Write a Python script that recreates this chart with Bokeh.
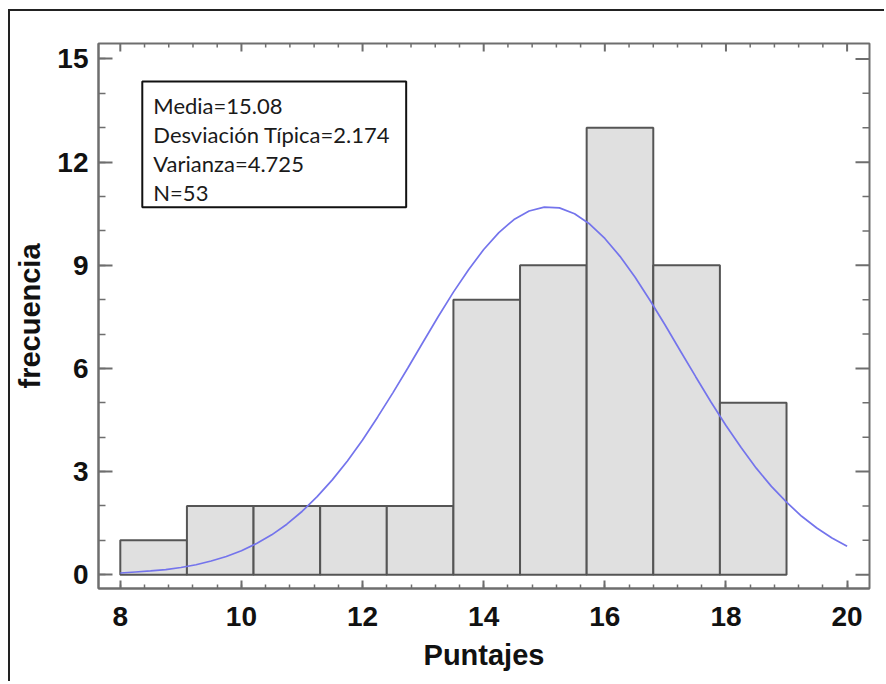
import numpy as np
from bokeh.plotting import figure
from bokeh.models import Range1d, SingleIntervalTicker, Label, BoxAnnotation, ColumnDataSource
from bokeh.embed import file_html
from bokeh.resources import INLINE

# ---- data ----
bin_left = [8.0, 9.1, 10.2, 11.3, 12.4, 13.5, 14.6, 15.7, 16.8, 17.9]
bin_right = [9.1, 10.2, 11.3, 12.4, 13.5, 14.6, 15.7, 16.8, 17.9, 19.0]
counts = [1, 2, 2, 2, 2, 8, 9, 13, 9, 5]

curve_x = [8.0, 8.25, 8.5, 8.75, 9.0, 9.25, 9.5, 9.75, 10.0, 10.25, 10.5, 10.75,
           11.0, 11.25, 11.5, 11.75, 12.0, 12.25, 12.5, 12.75, 13.0, 13.25, 13.5, 13.75,
           14.0, 14.25, 14.5, 14.75, 15.0, 15.25, 15.5, 15.75, 16.0, 16.25, 16.5, 16.75,
           17.0, 17.25, 17.5, 17.75, 18.0, 18.25, 18.5, 18.75, 19.0, 19.25, 19.5, 19.75, 20.0]
curve_y = [0.05, 0.08, 0.11, 0.15, 0.21, 0.29, 0.40, 0.53, 0.70, 0.91, 1.16, 1.47,
           1.84, 2.27, 2.76, 3.31, 3.92, 4.59, 5.29, 6.02, 6.77, 7.51, 8.22, 8.87,
           9.46, 9.95, 10.33, 10.58, 10.69, 10.67, 10.50, 10.20, 9.78, 9.26, 8.65, 7.97,
           7.25, 6.50, 5.76, 5.03, 4.34, 3.70, 3.10, 2.57, 2.11, 1.70, 1.36, 1.07, 0.83]

stats_lines = ["Media=15.08", "Desviación Típica=2.174", "Varianza=4.725", "N=53"]
x_label = "Puntajes"
y_label = "frecuencia"

AX = "#6e6e6e"
FONT = "Liberation Sans"
X0, X1 = 7.64, 20.37
Y0, Y1 = -0.40, 15.45
FW, FH = 771, 545

p = figure(width=874, height=670, output_backend="svg", toolbar_location=None,
           x_range=Range1d(X0, X1), y_range=Range1d(Y0, Y1),
           frame_width=FW, frame_height=FH,
           min_border_left=88, min_border_top=32, min_border_right=15, min_border_bottom=93)
p.styles = {"border-top": "2px solid #222222", "border-left": "2px solid #222222",
            "margin-left": "8px", "margin-top": "9px"}
p.xgrid.visible = False
p.ygrid.visible = False
p.outline_line_color = AX
p.outline_line_width = 2
p.background_fill_color = "white"
p.border_fill_color = "white"

src = ColumnDataSource(dict(left=bin_left, right=bin_right, top=counts, bottom=[0] * len(counts)))
p.quad(left="left", right="right", top="top", bottom="bottom", source=src,
       fill_color="#e0e0e0", line_color="#555555", line_width=2)
p.line(curve_x, curve_y, line_color="#7474ec", line_width=1.7)

p.xaxis.ticker = SingleIntervalTicker(interval=2, num_minor_ticks=5)
p.yaxis.ticker = SingleIntervalTicker(interval=3, num_minor_ticks=3)
for ax, maj, mnr in ((p.xaxis[0], 8, 4), (p.yaxis[0], 14, 7)):
    ax.axis_line_color = AX
    ax.axis_line_width = 2
    ax.major_tick_line_color = AX
    ax.minor_tick_line_color = AX
    ax.major_tick_line_width = 2
    ax.minor_tick_line_width = 1.5
    ax.major_tick_in = maj
    ax.major_tick_out = 0
    ax.minor_tick_in = mnr
    ax.minor_tick_out = 0
    ax.major_label_text_font = FONT
    ax.major_label_text_font_style = "bold"
    ax.major_label_text_font_size = "28px"
    ax.major_label_text_color = "#111111"
    ax.axis_label_text_font = FONT
    ax.axis_label_text_font_style = "bold"
    ax.axis_label_text_font_size = "29px"
    ax.axis_label_text_color = "#111111"
p.xaxis.axis_label = x_label
p.yaxis.axis_label = y_label
p.xaxis.major_label_standoff = 18
p.xaxis.axis_label_standoff = 10
p.yaxis.major_label_standoff = 10
p.yaxis.axis_label_standoff = 8

# inward ticks on top and right frame edges
xmaj = np.arange(8, 20.01, 2)
xmin = np.array([v for v in np.arange(8, 20.01, 0.4) if abs(v / 2 - round(v / 2)) > 1e-6])
ymaj = np.arange(0, 15.01, 3)
ymin = np.array([v for v in np.arange(0, 15.01, 1) if v % 3 != 0])
dy_maj, dy_min = 8 * (Y1 - Y0) / FH, 4 * (Y1 - Y0) / FH
dx_maj, dx_min = 14 * (X1 - X0) / FW, 7 * (X1 - X0) / FW
p.segment(x0=xmaj, y0=[Y1] * len(xmaj), x1=xmaj, y1=[Y1 - dy_maj] * len(xmaj), line_color=AX, line_width=2)
p.segment(x0=xmin, y0=[Y1] * len(xmin), x1=xmin, y1=[Y1 - dy_min] * len(xmin), line_color=AX, line_width=1.5)
p.segment(x0=[X1] * len(ymaj), y0=ymaj, x1=[X1 - dx_maj] * len(ymaj), y1=ymaj, line_color=AX, line_width=2)
p.segment(x0=[X1] * len(ymin), y0=ymin, x1=[X1 - dx_min] * len(ymin), y1=ymin, line_color=AX, line_width=1.5)

# statistics box
p.add_layout(BoxAnnotation(left=8.363, right=12.72, top=14.345, bottom=10.69,
                           fill_color="white", fill_alpha=1.0,
                           line_color="#111111", line_width=2, line_alpha=1.0))
for txt, yy in zip(stats_lines, [13.65, 12.81, 11.97, 11.13]):
    p.add_layout(Label(x=8.545, y=yy, text=txt, text_font="Lato", text_font_size="22px",
                       text_color="#1a1a1a", text_baseline="alphabetic", text_align="left"))

open("out.html", "w").write(file_html(p, INLINE))
